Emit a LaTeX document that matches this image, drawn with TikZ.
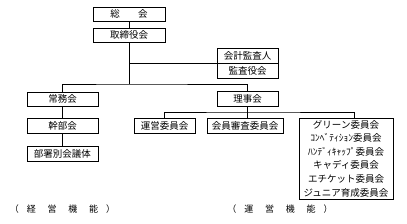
\documentclass[tikz,border=0pt]{standalone}
\usepackage{fontspec}
\setmainfont{Noto Sans CJK JP}
\tikzset{
  box/.style = {draw, line width=1pt, inner sep=0pt, minimum height=15pt,
    font=\fontsize{9.5}{11}\selectfont},
  link/.style = {line width=0.7pt},
  func/.style = {font=\fontsize{9}{11}\selectfont, inner sep=0pt}
}
\begin{document}
\begin{tikzpicture}[x=1pt,y=-1pt]
  \pgfmathsetmacro{\xtop}{129};
  \pgfmathsetmacro{\xleft}{62.5};
  \pgfmathsetmacro{\xright}{247.5};
  \pgfmathsetmacro{\ysplit}{84};
  \pgfmathsetmacro{\ybranch}{112};
  \useasboundingbox (0,0) rectangle (407,223);
  \node[box, minimum width=72pt, minimum height=14pt] (sokai) at (\xtop,14) {総\hspace{1.9em}会};
  \node[box, minimum width=72pt, minimum height=14pt] (torishimari) at (\xtop,35) {取締役会};
  \node[box, minimum width=61pt] (kansanin) at (\xright,55.5) {会計監査人};
  \node[box, minimum width=61pt] (kansayaku) at (\xright,70.5) {監査役会};
  \node[box, minimum width=61pt] (riji) at (\xright,98.5) {理事会};
  \node[box, minimum width=71pt, minimum height=14pt] (jomu) at (\xleft,99) {常務会};
  \node[box, minimum width=71pt] (kanbu) at (\xleft,125.5) {幹部会};
  \node[box, minimum width=71pt] (busho) at (\xleft,153.5) {部署別会議体};
  \node[box, minimum width=61pt] (unei) at (164.5,125.5) {運営委員会};
  \node[box, minimum width=76pt] (shinsa) at (245,125.5) {会員審査委員会};
  \node[box, minimum width=94pt, minimum height=81pt, align=center,
    font=\fontsize{9.5}{13.6}\selectfont] (iinkai) at (346,158.5)
    {グリーン委員会\\ｺﾝﾍﾞﾃｨｼｮﾝ委員会\\ﾊﾝﾃﾞｨｷｬｯﾌﾟ委員会\\キャディ委員会\\エチケット委員会\\ジュニア育成委員会};
  \node[func] (keiei) at (\xleft,209) {（\hspace{0.9em}経\hspace{1.3em}営\hspace{1.3em}機\hspace{1.3em}能\hspace{0.9em}）};
  \node[func] (unyo) at (280,209) {（\hspace{0.9em}運\hspace{1.3em}営\hspace{1.3em}機\hspace{1.3em}能\hspace{0.9em}）};
  \coordinate (split) at (\xtop,\ysplit);
  \coordinate (branch) at (\xright,\ybranch);
  \coordinate (iinkaiin) at (354,118);
  \draw[link] (sokai) -- (torishimari);
  \draw[link] (torishimari) -- (split);
  \draw[link] (torishimari.south |- kansanin.south west) -- (kansanin.south west);
  \draw[link] (jomu.north) |- (split) -| (riji.north);
  \draw[link] (jomu) -- (kanbu);
  \draw[link] (kanbu) -- (busho);
  \draw[link] (riji.south) -- (riji.south |- shinsa.north);
  \draw[link] (unei.north) |- (branch) -| (iinkaiin);
\end{tikzpicture}
\end{document}
